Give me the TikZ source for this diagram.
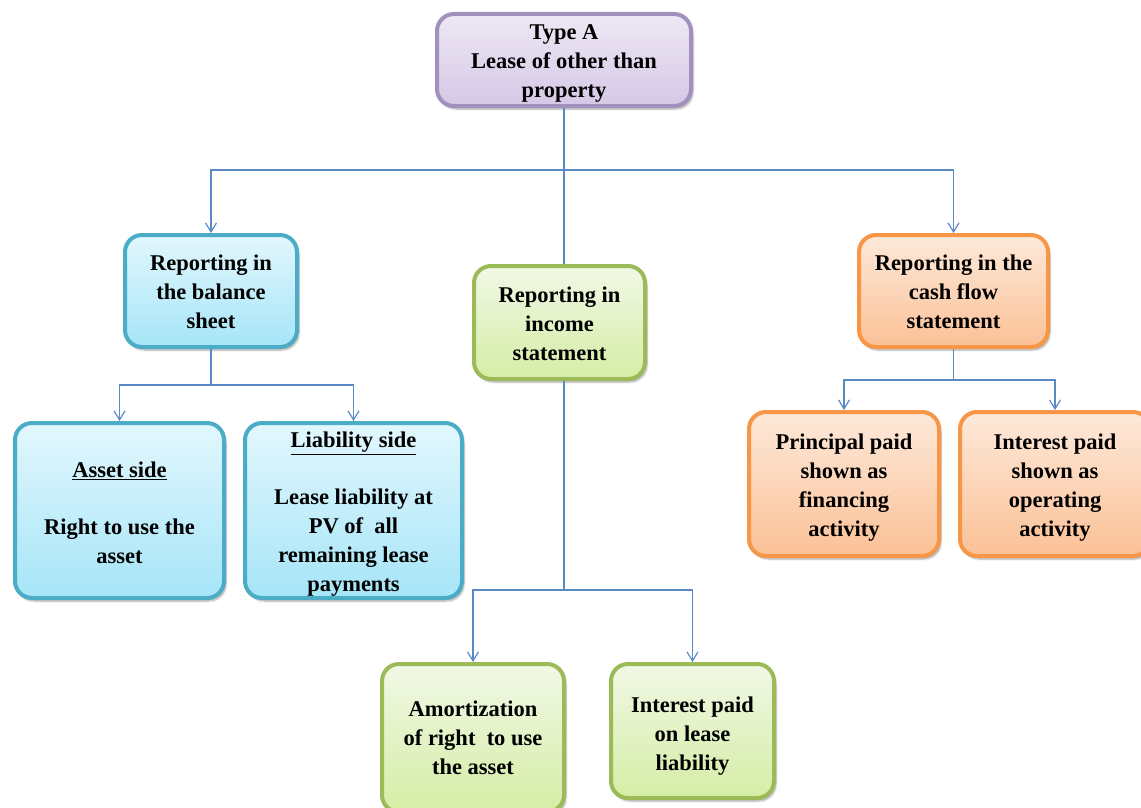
\documentclass[tikz,border=0pt]{standalone}
\usepackage{fontspec}
\setmainfont{Liberation Serif}
\usetikzlibrary{arrows.meta,shadows.blur}
\definecolor{purpleline}{HTML}{A391BD}
\definecolor{purpletop}{HTML}{EEE8F4}
\definecolor{purplebot}{HTML}{D5C8E6}
\definecolor{blueline}{HTML}{4BACC6}
\definecolor{bluetop}{HTML}{E2F7FD}
\definecolor{bluebot}{HTML}{A6E5F8}
\definecolor{greenline}{HTML}{9BBB59}
\definecolor{greentop}{HTML}{F1F8E6}
\definecolor{greenbot}{HTML}{D5EDA5}
\definecolor{orangeline}{HTML}{F79646}
\definecolor{orangetop}{HTML}{FDE9DA}
\definecolor{orangebot}{HTML}{FBC196}
\definecolor{linkblue}{HTML}{5A8AC6}
\begin{document}
\begin{tikzpicture}[x=1pt,y=-1pt,
  box/.style={draw, line width=4pt, rounded corners=17pt, inner sep=0pt,
    blur shadow={shadow xshift=2pt, shadow yshift=-3pt,
      shadow blur steps=6, shadow opacity=35}},
  boxtext/.style={align=center, inner sep=0pt,
    font=\bfseries\fontsize{22.5}{29}\selectfont},
  purplebox/.style={box, draw=purpleline, top color=purpletop, bottom color=purplebot},
  bluebox/.style={box, draw=blueline, top color=bluetop, bottom color=bluebot},
  greenbox/.style={box, draw=greenline, top color=greentop, bottom color=greenbot},
  orangebox/.style={box, draw=orangeline, top color=orangetop, bottom color=orangebot},
  link/.style={draw=linkblue, line width=1.2pt},
  arrowlink/.style={link, -{Straight Barb[length=9pt,width=11pt]}}
]
\useasboundingbox (0,0) rectangle (1141,808);

% boxes
\node[purplebox, minimum width=254pt, minimum height=92pt] (top) at (564,60) {};
\node[bluebox, minimum width=172pt, minimum height=112pt] (bal) at (211,291) {};
\node[greenbox, minimum width=171pt, minimum height=113pt] (inc) at (559.5,322.5) {};
\node[orangebox, minimum width=189pt, minimum height=112pt] (cash) at (953.5,291) {};
\node[bluebox, minimum width=209pt, minimum height=175pt] (asset) at (119.5,510.5) {};
\node[bluebox, minimum width=217pt, minimum height=175pt] (liab) at (353.5,510.5) {};
\node[greenbox, minimum width=182pt, minimum height=148pt] (amort) at (473,738) {};
\node[greenbox, minimum width=163pt, minimum height=134pt] (intl) at (692.5,731) {};
\node[orangebox, minimum width=190pt, minimum height=144pt] (princ) at (844,484) {};
\node[orangebox, minimum width=190pt, minimum height=144pt] (intop) at (1055,484) {};

% box texts
\node[boxtext] (topText) at ([yshift=-4pt]top.center)
  {Type A\\Lease of other than\\property};
\node[boxtext] (balText) at ([yshift=-1pt]bal.center)
  {Reporting in\\the balance\\sheet};
\node[boxtext] (incText) at ([yshift=-1pt]inc.center)
  {Reporting in\\income\\statement};
\node[boxtext] (cashText) at ([yshift=-1pt]cash.center)
  {Reporting in the\\cash flow\\statement};
\node[boxtext] (assetText) at ([yshift=-2pt]asset.center)
  {\underline{Asset side}\\[28pt]Right to use the\\asset};
\node[boxtext] (liabText) at ([yshift=-4pt]liab.center)
  {\underline{Liability side}\\[28pt]Lease liability at\\PV of~ all\\remaining lease\\payments};
\node[boxtext] (amortText) at (amort.center)
  {Amortization\\of right~ to use\\the asset};
\node[boxtext] (intlText) at ([yshift=-5pt]intl.center)
  {Interest paid\\on lease\\liability};
\node[boxtext] (princText) at ([yshift=-4pt]princ.center)
  {Principal paid\\shown as\\financing\\activity};
\node[boxtext] (intopText) at ([yshift=-4pt]intop.center)
  {Interest paid\\shown as\\operating\\activity};

% connectors from the top box
\coordinate (busT) at (564,170);
\draw[link] (top.south) -- (top.south |- inc.north);
\draw[arrowlink] (busT) -| (bal.north);
\draw[arrowlink] (busT) -| (cash.north);

% balance sheet branch
\coordinate (busB) at (211,385);
\draw[link] (bal.south) -- (busB);
\draw[arrowlink] (busB) -| (asset.north);
\draw[arrowlink] (busB) -| (liab.north);

% income statement branch
\coordinate (busI) at (564,590);
\draw[link] (top.south |- inc.south) -- (busI);
\draw[arrowlink] (busI) -| (amort.north);
\draw[arrowlink] (busI) -| (intl.north);

% cash flow branch
\coordinate (busC) at (953.5,380);
\draw[link] (cash.south) -- (busC);
\draw[arrowlink] (busC) -| (princ.north);
\draw[arrowlink] (busC) -| (intop.north);
\end{tikzpicture}
\end{document}
